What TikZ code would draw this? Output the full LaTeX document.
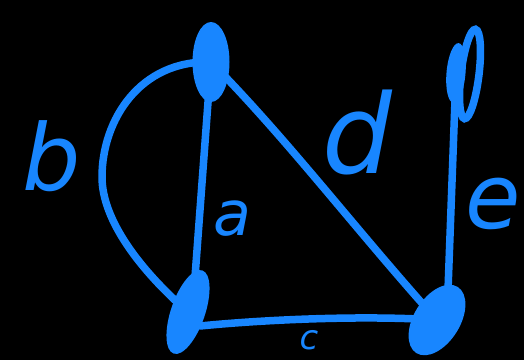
\documentclass[tikz,border=0pt]{standalone}
\usepackage{fontspec}
\setmainfont{DejaVu Sans}
\usetikzlibrary{shapes.geometric,calc}
\definecolor{gblue}{RGB}{24,134,255}
\begin{document}
\begin{tikzpicture}[x=1pt,y=1pt,
  edge/.style={draw=gblue, line width=7.5pt, line cap=round, line join=round},
  blob/.style={ellipse, fill=gblue, inner sep=0pt},
  loopring/.style={ellipse, draw=gblue, line width=7.5pt, inner sep=0pt},
  lbl/.style={text=gblue, inner sep=0pt}]
\fill[black] (0,0) rectangle (524,360);
\useasboundingbox (0,0) rectangle (524,360);
% vertices
\node[blob, minimum width=37pt, minimum height=80pt] (v1) at (211,298) {};
\node[blob, minimum width=34pt, minimum height=88pt, rotate=-19] (v2) at (188,48) {};
\node[blob, minimum width=19pt, minimum height=60pt, rotate=-5] (v3) at (456,287) {};
\node[loopring, minimum width=18pt, minimum height=90pt, rotate=-7] (v3loop) at (470,286) {};
\node[blob, minimum width=46pt, minimum height=78pt, rotate=-32] (v4) at (437,40) {};
% edges
\draw[edge] (v1.center) -- ($(v2.center)+(7,35)$);
\draw[edge] (v1.center) .. controls (140,300) and (102,240) .. (102,183)
            .. controls (102,140) and (140,90) .. (v2.center);
\draw[edge] (v1.center) .. controls (288,220) and (356,130) .. (v4.center);
\draw[edge] ($(v2.center)+(12,-14)$) .. controls (260,40) and (360,45) .. (v4.center);
\draw[edge] (v3.center) -- ($(v4.center)+(11,30)$);
% labels
\node[lbl, font={\itshape\fontsize{92pt}{92pt}\selectfont}] (lb) at (52,204) {b};
\node[lbl, font={\itshape\fontsize{62pt}{62pt}\selectfont}] (la) at (232,141) {a};
\node[lbl, font={\itshape\fontsize{110pt}{110pt}\selectfont}] (ld) at (357,228) {d};
\node[lbl, font={\itshape\fontsize{90pt}{90pt}\selectfont}] (le) at (493,156) {e};
\node[lbl, font={\itshape\fontsize{34pt}{34pt}\selectfont}] (lc) at (309,20) {c};
\end{tikzpicture}
\end{document}
